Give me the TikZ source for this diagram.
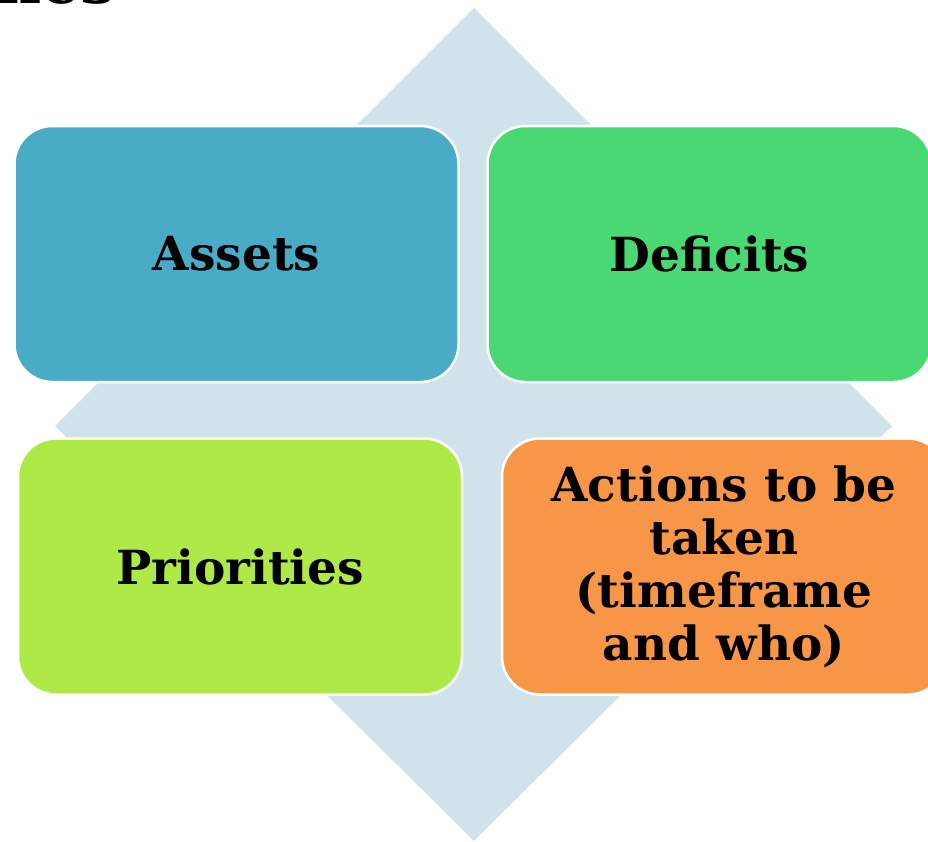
\documentclass[tikz,border=0pt]{standalone}
\usepackage{fontspec}
\usepackage{tikz}
\usetikzlibrary{positioning}
\newfontfamily\boxfont{DejaVu Serif}
\definecolor{diamondblue}{HTML}{D0E3EA}
\definecolor{assetblue}{HTML}{4AABC6}
\definecolor{deficitgreen}{HTML}{4AD874}
\definecolor{prioritylime}{HTML}{AFE948}
\definecolor{actionorange}{HTML}{F79646}

\begin{document}
\begin{tikzpicture}[ x=1pt, y=-1pt, node distance=473pt, on grid,
box/.style={ rectangle, rounded corners=38pt, draw=white, line width=2.5pt, minimum width=444pt, minimum height=256pt, align=center, font=\boxfont\bfseries\fontsize{47}{53}\selectfont } ]
\useasboundingbox (0,0) rectangle (928,841);
\clip (0,0) rectangle (928,841);
% cut-off title
\node [ anchor=base west, inner sep=0pt, font=\boxfont\bfseries\fontsize{62}{62}\selectfont ] (title) at (-4,3) {nes};
% background diamond
\fill [diamondblue] (474,8) -- (892,426) -- (474,841) -- (55,426) -- cycle;
\node [ box, fill=assetblue ] (assets) at (236.5,254) {Assets};
\node [ box, fill=deficitgreen ] (deficits) [ right = of assets ] {Deficits};
\node [ box, fill=prioritylime ] (priorities) at (240,566.5) {Priorities};
\node [ box, fill=actionorange ] (actions) [ right = 484pt of priorities ] {Actions to be\\taken\\(timeframe\\and who)};
\end{tikzpicture}
\end{document}
